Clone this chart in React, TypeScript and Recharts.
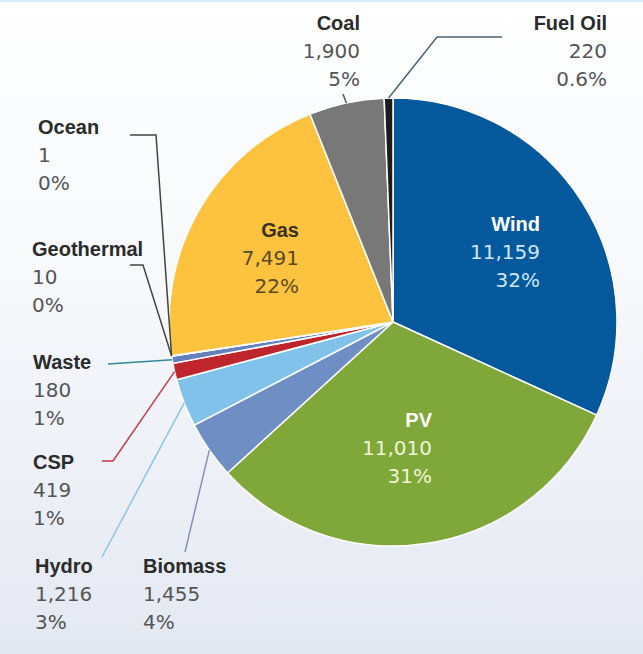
import React from 'react';
import { PieChart, Pie, Cell } from 'recharts';

// installed capacity by technology
const categories = ['Wind', 'PV', 'Biomass', 'Hydro', 'CSP', 'Waste', 'Geothermal', 'Ocean', 'Gas', 'Coal', 'Fuel Oil'];
const values = [11159, 11010, 1455, 1216, 419, 180, 10, 1, 7491, 1900, 220];
const shareLabels = ['32%', '31%', '4%', '3%', '1%', '1%', '0%', '0%', '22%', '5%', '0.6%'];

const sliceColors = ['#04599d', '#7fa73a', '#6e8ec4', '#80c2ea', '#be252c', '#6680be', '#9aa7c8', '#8aa0c8', '#fdc33f', '#787878', '#1c1c1c'];

const data = categories.map((name, i) => ({ name, value: values[i] }));

const NAME_FONT = "'Liberation Sans', Arial, sans-serif";
const NUM_FONT = "'DejaVu Sans', 'Liberation Sans', sans-serif";
const LINE_H = 28;

type Layout = {
  x: number;
  y: number;
  anchor: 'start' | 'end' | 'middle';
  leader?: number[][];
  lineColor?: string;
  nameFill?: string;
  numFill?: string;
};

// where each label sits (leader lines start at the slice edge)
const labelLayout: Record<string, Layout> = {
  Wind: { x: 540, y: 229, anchor: 'end', nameFill: '#ffffff', numFill: '#cfe6f8' },
  PV: { x: 432, y: 425, anchor: 'end', nameFill: '#ffffff', numFill: '#eef5d6' },
  Gas: { x: 299, y: 235, anchor: 'end', nameFill: '#3a3120', numFill: '#5a4a26' },
  Coal: { x: 360, y: 28, anchor: 'end', leader: [[343, 92]], lineColor: '#555' },
  'Fuel Oil': { x: 607, y: 28, anchor: 'end', leader: [[437, 35], [502, 35]], lineColor: '#4b6275' },
  Ocean: { x: 38, y: 132, anchor: 'start', leader: [[156, 133], [130, 133]], lineColor: '#444' },
  Geothermal: { x: 32, y: 254, anchor: 'start', leader: [[143, 263], [130, 263]], lineColor: '#444' },
  Waste: { x: 33, y: 367, anchor: 'start', leader: [[108, 362]], lineColor: '#2f8a9a' },
  CSP: { x: 33, y: 467, anchor: 'start', leader: [[113, 459], [102, 459]], lineColor: '#c43b4c' },
  Hydro: { x: 35, y: 571, anchor: 'start', leader: [[102, 555]], lineColor: '#8cc4e8' },
  Biomass: { x: 143, y: 571, anchor: 'start', leader: [[185, 550]], lineColor: '#8792b6' },
};

const RAD = Math.PI / 180;

const renderLabel = (props: any) => {
  const { cx, cy, midAngle, outerRadius, index } = props;
  const name = categories[index];
  const lay = labelLayout[name];
  if (!lay) return null;
  const sx = cx + outerRadius * Math.cos(-midAngle * RAD);
  const sy = cy + outerRadius * Math.sin(-midAngle * RAD);
  const pts = lay.leader ? [[sx, sy], ...lay.leader] : null;
  return (
    <g key={`lbl-${name}`}>
      {pts && (
        <polyline
          points={pts.map((p) => p.join(',')).join(' ')}
          fill="none"
          stroke={lay.lineColor}
          strokeWidth={1.5}
        />
      )}
      <text x={lay.x} y={lay.y} textAnchor={lay.anchor} fontFamily={NAME_FONT} fontWeight="bold" fontSize={20} fill={lay.nameFill || '#2b2b2b'}>
        {name}
      </text>
      <text x={lay.x} y={lay.y + LINE_H} textAnchor={lay.anchor} fontFamily={NUM_FONT} fontSize={20} fill={lay.numFill || '#555'}>
        {values[index].toLocaleString('en-US')}
      </text>
      <text x={lay.x} y={lay.y + LINE_H * 2} textAnchor={lay.anchor} fontFamily={NUM_FONT} fontSize={20} fill={lay.numFill || '#555'}>
        {shareLabels[index]}
      </text>
    </g>
  );
};

const App: React.FC = () => {
  return (
    <div
      style={{
        position: 'absolute',
        left: 0,
        top: 0,
        width: 643,
        height: 654,
        background: 'linear-gradient(to bottom, #ffffff 0%, #f6f8fb 45%, #e4e8f1 100%)',
        borderTop: '2px solid #d6eef9',
        boxSizing: 'border-box',
      }}
    >
      <PieChart width={643} height={652} margin={{ top: 0, right: 0, bottom: 0, left: 0 }}>
        <Pie
          data={data}
          dataKey="value"
          nameKey="name"
          cx={393}
          cy={320}
          outerRadius={224}
          startAngle={90}
          endAngle={-270}
          stroke="#ffffff"
          strokeWidth={1.5}
          label={renderLabel}
          labelLine={false}
          isAnimationActive={false}
        >
          {data.map((d, i) => (
            <Cell key={d.name} fill={sliceColors[i]} />
          ))}
        </Pie>
      </PieChart>
    </div>
  );
};

export default App;
